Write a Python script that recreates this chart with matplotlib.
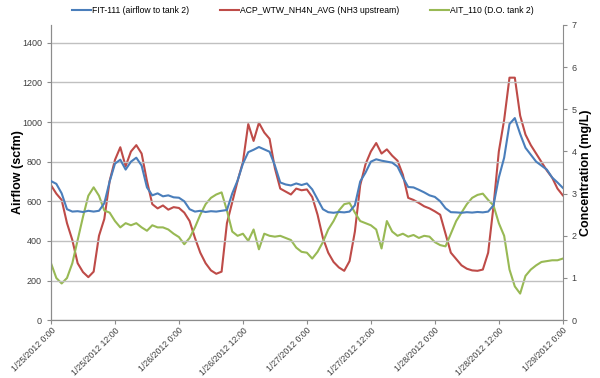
import matplotlib
matplotlib.use("Agg")
from matplotlib import pyplot as plt
import matplotlib.dates as mdates
import pandas as pd

plt.rcParams["font.family"] = ["Liberation Sans", "DejaVu Sans"]

# hourly readings, 1/25/2012 0:00 .. 1/29/2012 0:00
start = "2012-01-25 00:00"

airflow = [702, 688, 640, 560, 548, 550, 546, 552, 548, 552,
           590, 700, 790, 810, 760, 800, 820, 780, 670, 630,
           640, 625, 630, 620, 618, 600, 560, 548, 552, 546,
           550, 548, 552, 556, 640, 705, 790, 848, 860, 874,
           862, 850, 780, 695, 685, 680, 690, 682, 690, 660,
           610, 560, 545, 542, 546, 544, 548, 580, 700, 745,
           800, 812, 805, 800, 795, 775, 720, 672, 670, 658,
           645, 630, 622, 600, 565, 545, 544, 542, 545, 543,
           546, 544, 548, 580, 720, 820, 990, 1020, 940, 870,
           835, 800, 780, 760, 720, 695, 668]

nh3 = [3.2, 3.0, 2.85, 2.3, 1.9, 1.35, 1.14, 1.02, 1.15, 2.0,
       2.4, 3.3, 3.8, 4.1, 3.65, 4.0, 4.15, 3.95, 3.3, 2.75,
       2.65, 2.72, 2.62, 2.68, 2.66, 2.55, 2.35, 1.95, 1.6, 1.35,
       1.18, 1.1, 1.15, 2.3, 2.8, 3.3, 3.75, 4.65, 4.25, 4.68,
       4.45, 4.3, 3.6, 3.12, 3.05, 2.98, 3.12, 3.08, 3.1, 2.92,
       2.5, 1.95, 1.6, 1.38, 1.25, 1.17, 1.4, 2.1, 3.2, 3.7,
       4.0, 4.2, 3.95, 4.05, 3.9, 3.78, 3.45, 2.9, 2.85, 2.78,
       2.7, 2.65, 2.58, 2.5, 2.05, 1.6, 1.45, 1.3, 1.22, 1.18,
       1.17, 1.2, 1.6, 2.7, 4.0, 4.75, 5.75, 5.75, 4.85, 4.4,
       4.15, 3.95, 3.75, 3.55, 3.38, 3.12, 2.96]

do = [1.35, 1.0, 0.87, 1.0, 1.35, 1.9, 2.45, 2.95, 3.15, 2.95,
      2.6, 2.55, 2.35, 2.2, 2.3, 2.25, 2.3, 2.2, 2.12, 2.25,
      2.2, 2.2, 2.15, 2.05, 1.97, 1.8, 1.95, 2.2, 2.5, 2.75,
      2.9, 2.98, 3.03, 2.6, 2.1, 2.0, 2.05, 1.88, 2.15, 1.68,
      2.05, 2.0, 1.98, 2.0, 1.95, 1.9, 1.72, 1.62, 1.6, 1.46,
      1.62, 1.85, 2.15, 2.35, 2.6, 2.75, 2.78, 2.55, 2.35, 2.3,
      2.25, 2.15, 1.7, 2.35, 2.1, 2.0, 2.05, 1.98, 2.02, 1.95,
      2.0, 1.98, 1.85, 1.78, 1.75, 2.05, 2.35, 2.55, 2.75, 2.9,
      2.97, 3.0, 2.85, 2.72, 2.3, 2.0, 1.2, 0.8, 0.63, 1.05,
      1.2, 1.3, 1.38, 1.4, 1.42, 1.42, 1.46]

times = pd.date_range(start, periods=len(airflow), freq="h")

BLUE = "#4a7ebb"
RED = "#be4b48"
GREEN = "#98b954"
GRID = "#c0c0c0"
AXIS = "#8c8c8c"


def fmt_date(v, pos):
    d = mdates.num2date(v)
    return f"{d.month}/{d.day}/{d.year} {d.hour}:{d.minute:02d}"


fig = plt.figure(figsize=(6, 3.78), dpi=100)
ax = fig.add_axes([0.085, 0.153, 0.853, 0.781])
ax2 = ax.twinx()

l1, = ax.plot(times, airflow, color=BLUE, lw=1.5, label="FIT-111 (airflow to tank 2)", zorder=3)
l2, = ax2.plot(times, nh3, color=RED, lw=1.5, label="ACP_WTW_NH4N_AVG (NH3 upstream)")
l3, = ax2.plot(times, do, color=GREEN, lw=1.5, label="AIT_110 (D.O. tank 2)")
ax.set_zorder(ax2.get_zorder() + 1)
ax.patch.set_visible(False)

ax.set_ylim(0, 1490)
ax.set_yticks(range(0, 1401, 200))
ax2.set_ylim(0, 7)
ax2.set_yticks(range(0, 8))
ax.set_xlim(times[0], times[-1])

ax.xaxis.set_major_locator(mdates.HourLocator(byhour=[0, 12]))
ax.xaxis.set_major_formatter(plt.FuncFormatter(fmt_date))
ax.tick_params(axis="x", labelsize=6.3, colors="#404040", length=3, color=AXIS, pad=1)
plt.setp(ax.get_xticklabels(), rotation=45, ha="right", rotation_mode="anchor")
ax.tick_params(axis="y", labelsize=6.5, colors="#404040", length=3, color=AXIS)
ax2.tick_params(axis="y", labelsize=6.5, colors="#404040", length=3, color=AXIS)

ax.grid(axis="y", color=GRID, lw=1)
ax.set_axisbelow(True)
for a in (ax, ax2):
    a.spines["top"].set_visible(False)
    for s in ("left", "right", "bottom"):
        a.spines[s].set_color(AXIS)
ax.spines["right"].set_visible(False)

ax.set_ylabel("Airflow (scfm)", fontsize=9, fontweight="bold")
ax.yaxis.set_label_coords(-0.052, 0.5)
ax2.set_ylabel("Concentration (mg/L)", fontsize=9, fontweight="bold", rotation=90)
ax2.yaxis.set_label_coords(1.034, 0.5)

fig.legend(handles=[l1, l2, l3], loc="center", bbox_to_anchor=(0.505, 0.972), ncol=3,
           frameon=False, fontsize=6.2, handlelength=2.2, handletextpad=0.2, columnspacing=3.5)

fig.savefig("out.png", dpi=100)
